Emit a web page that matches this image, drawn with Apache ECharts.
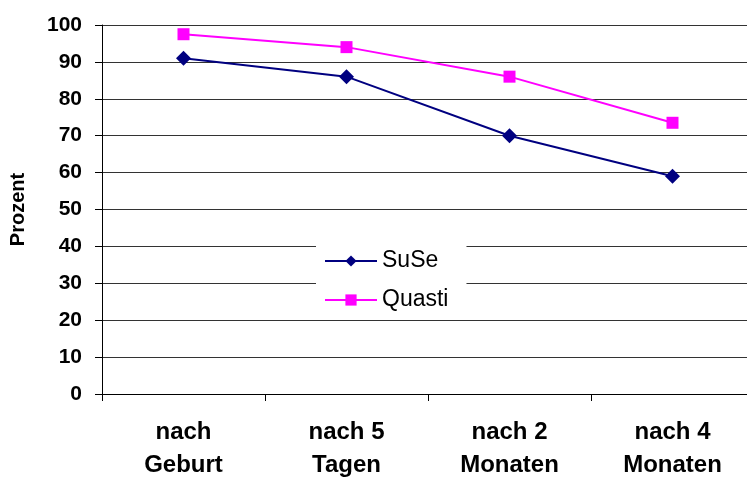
<!DOCTYPE html>
<html>
<head>
<meta charset="utf-8">
<script src="https://cdn.jsdelivr.net/npm/echarts@6/dist/echarts.min.js"></script>
<style>
  html, body { margin: 0; padding: 0; background: #fff; }
  #chart { width: 747px; height: 477px; }
</style>
</head>
<body>
<div id="chart"></div>
<script>
// Zeitpunkte der Erhebung
const categories = ['nach\nGeburt', 'nach 5\nTagen', 'nach 2\nMonaten', 'nach 4\nMonaten'];
// Anteile in Prozent
const suseValues = [91, 86, 70, 59];
const quastiValues = [97.5, 94, 86, 73.5];
const yTicks = { min: 0, max: 100, interval: 10 };

const FONT = '"Liberation Sans", Arial, sans-serif';

const chart = echarts.init(document.getElementById('chart'), null, { renderer: 'canvas' });

chart.setOption({
  animation: false,
  backgroundColor: '#ffffff',
  grid: {
    left: 102, top: 25, right: -7, bottom: 83,
    containLabel: false,
    outerBoundsMode: 'none'
  },
  legend: {
    orient: 'vertical',
    left: 316,
    top: 239,
    padding: [10, 18, 6, 8],
    itemGap: 15,
    itemWidth: 52,
    itemHeight: 14,
    backgroundColor: '#ffffff',
    textStyle: { fontFamily: FONT, fontSize: 23, color: '#000', lineHeight: 24 },
    data: ['SuSe', 'Quasti']
  },
  xAxis: {
    type: 'category',
    data: categories,
    boundaryGap: true,
    axisLine: { show: true, lineStyle: { color: '#000', width: 1 } },
    axisTick: { show: true, length: 7, lineStyle: { color: '#000' } },
    axisLabel: {
      interval: 0,
      margin: 22,
      fontFamily: FONT,
      fontSize: 24,
      fontWeight: 'bold',
      lineHeight: 33,
      color: '#000'
    },
    splitLine: { show: false }
  },
  yAxis: {
    type: 'value',
    min: yTicks.min,
    max: yTicks.max,
    interval: yTicks.interval,
    name: 'Prozent',
    nameLocation: 'middle',
    nameRotate: 90,
    nameGap: 74,
    nameTextStyle: { fontFamily: FONT, fontSize: 20, fontWeight: 'bold', color: '#000' },
    axisLine: { show: true, lineStyle: { color: '#000', width: 1 } },
    axisTick: { show: true, length: 7, lineStyle: { color: '#000' } },
    axisLabel: { margin: 20, fontFamily: FONT, fontSize: 21, fontWeight: 'bold', color: '#000' },
    splitLine: { show: true, lineStyle: { color: '#333', width: 1 } }
  },
  series: [
    {
      name: 'SuSe',
      type: 'line',
      data: suseValues,
      symbol: 'diamond',
      symbolSize: [15, 15],
      showAllSymbol: true,
      lineStyle: { color: '#000080', width: 2 },
      itemStyle: { color: '#000080' },
      z: 3
    },
    {
      name: 'Quasti',
      type: 'line',
      data: quastiValues,
      symbol: 'rect',
      symbolSize: 12,
      lineStyle: { color: '#ff00ff', width: 2 },
      itemStyle: { color: '#ff00ff' },
      z: 3
    }
  ]
});
</script>
</body>
</html>
